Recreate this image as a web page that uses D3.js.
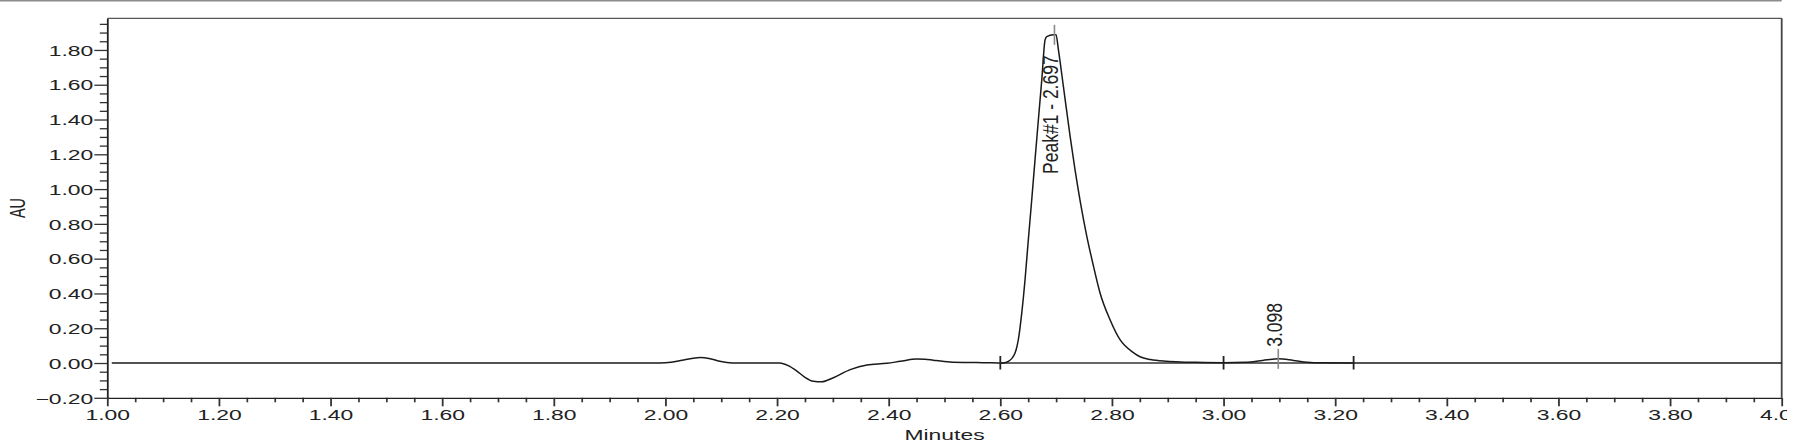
<!DOCTYPE html>
<html>
<head>
<meta charset="utf-8">
<script src="https://cdn.jsdelivr.net/npm/d3@7"></script>
<style>
body{margin:0;background:#fff}
svg{display:block}
text{font-family:"Liberation Sans",Arial,sans-serif;fill:#222}
</style>
</head>
<body>
<div id="chart"></div>
<script>
var times=[1.008,1.990,2.010,2.030,2.050,2.063,2.078,2.095,2.110,2.130,2.205,2.220,2.235,2.250,2.265,2.280,2.300,2.331,2.361,2.397,2.421,2.450,2.465,2.480,2.510,2.540,2.569,2.6055,
  2.6144,2.6264,2.6323,2.6384,2.6443,2.6502,2.6563,2.6622,2.6682,2.6743,2.6802,2.6832,2.6950,2.6999,2.7040,2.7130,2.7250,2.7339,2.7437,2.7549,2.7667,2.7787,2.7966,2.8145,2.8384,2.8504,2.869,2.898,2.922,2.950,3.000,
  3.040,3.070,3.098,3.125,3.150,3.170,3.233,4.000]
var values=[0,0,0.004,0.016,0.028,0.031,0.026,0.012,0.003,0,0,-0.015,-0.045,-0.082,-0.105,-0.108,-0.086,-0.038,-0.011,-0.002,0.010,0.023,0.022,0.016,0.006,0.003,0.002,0,
  0.009,0.058,0.134,0.287,0.479,0.709,0.939,1.169,1.399,1.629,1.858,1.877,1.887,1.887,1.803,1.591,1.304,1.111,0.920,0.730,0.560,0.403,0.249,0.134,0.060,0.036,0.020,0.010,0.006,0.004,0.002,
  0.004,0.015,0.024,0.015,0.005,0.001,0,0]

var peakTimes=[2.697,3.098]
var peakApex=[1.887,0.024]
var peakLabels=['Peak#1 - 2.697','3.098']
var delims=[2.600,3.000,3.233]

var xTicks=[1.00,1.20,1.40,1.60,1.80,2.00,2.20,2.40,2.60,2.80,3.00,3.20,3.40,3.60,3.80,4.00]
var yTicks=[-0.20,0.00,0.20,0.40,0.60,0.80,1.00,1.20,1.40,1.60,1.80]

var W=1801,H=443
var sx=1.58
var svg=d3.select('#chart').append('svg')
    .attr('width',W).attr('height',H)

svg.append('defs').append('clipPath').attr('id','pageclip')
    .append('rect').attr('x',0).attr('y',0).attr('width',1787).attr('height',H)

var g=svg.append('g').attr('clip-path','url(#pageclip)')

var x=d3.scaleLinear().domain([1,4]).range([107.3,1781.7])
var y=d3.scaleLinear().domain([-0.2,1.982]).range([397.8,18.3])
var plotTop=y.range()[1], plotBot=y.range()[0]

// thin grey rule at the very top
g.append('line')
    .attr('x1',0).attr('x2',x(4)).attr('y1',0.7).attr('y2',0.7)
    .attr('stroke','#8c8c8c').attr('stroke-width',1.4)

// frame top/right
g.append('line')
    .attr('x1',x(1)).attr('x2',x(4)).attr('y1',plotTop).attr('y2',plotTop)
    .attr('stroke','#555').attr('stroke-width',1.3)
g.append('line')
    .attr('x1',x(4)).attr('x2',x(4)).attr('y1',plotTop).attr('y2',plotBot)
    .attr('stroke','#444').attr('stroke-width',1.8)

var fmt=d3.format('.2f')

// x minor then major
var xMinor=d3.range(1,4.0001,0.05).filter(function(d){return Math.abs(d*5-Math.round(d*5))>1e-6})
g.append('g').attr('transform','translate(0,'+plotBot+')')
    .call(d3.axisBottom(x).tickValues(xMinor).tickSize(4.5).tickSizeOuter(0).tickFormat(''))
    .call(function(a){a.select('.domain').remove()
	a.selectAll('.tick line').attr('stroke','#333').attr('stroke-width',1.7)})
var xa=g.append('g').attr('transform','translate(0,'+plotBot+')')
    .call(d3.axisBottom(x).tickValues(xTicks).tickSize(8.5).tickSizeOuter(0).tickFormat(fmt))
xa.select('.domain').attr('stroke','#222').attr('stroke-width',1.3)
xa.selectAll('.tick line').attr('stroke','#333').attr('stroke-width',1.8)
xa.selectAll('text')
    .attr('y',12.4).attr('dy','0.71em')
    .attr('font-size',14.5)
    .attr('transform','scale('+sx+',1)')

// y minor then major
var yMinor=d3.range(-0.2,1.98,0.05).filter(function(d){return Math.abs(d*5-Math.round(d*5))>1e-6})
g.append('g').attr('transform','translate('+x(1)+',0)')
    .call(d3.axisLeft(y).tickValues(yMinor).tickSize(7.5).tickSizeOuter(0).tickFormat(''))
    .call(function(a){a.select('.domain').remove()
	a.selectAll('.tick line').attr('stroke','#333').attr('stroke-width',1.3)})
var ya=g.append('g').attr('transform','translate('+x(1)+',0)')
    .call(d3.axisLeft(y).tickValues(yTicks).tickSize(13).tickSizeOuter(0).tickFormat(fmt))
ya.select('.domain').attr('stroke','#222').attr('stroke-width',1.8)
ya.selectAll('.tick line').attr('stroke','#333').attr('stroke-width',1.3)
ya.selectAll('text')
    .attr('x',-14/sx).attr('dy','0.36em')
    .attr('font-size',14.5)
    .attr('transform','scale('+sx+',1)')

g.append('text')
    .attr('transform','translate('+((x(1)+x(4))/2)+',440.3) scale('+sx+',1)')
    .attr('text-anchor','middle').attr('font-size',14.5)
    .text('Minutes')
g.append('text')
    .attr('transform','translate(25,'+((plotBot+plotTop)/2)+') scale('+sx+',1) rotate(-90)')
    .attr('text-anchor','middle').attr('font-size',14.5)
    .text('AU')

// integration baselines between delimiters
var segs=d3.pairs(delims)
var segline=d3.line().x(function(d){return x(d)}).y(function(){return y(0)})
g.selectAll('.seg').data(segs).enter().append('path')
    .attr('class','seg')
    .attr('d',function(d){return segline(d)})
    .attr('fill','none').attr('stroke','#333').attr('stroke-width',1.4)

// trace
var pts=times.map(function(t,i){return [t,values[i]]})
var trace=d3.line()
    .x(function(d){return x(d[0])})
    .y(function(d){return y(d[1])})
    .curve(d3.curveMonotoneX)
g.append('path')
    .datum(pts)
    .attr('d',trace)
    .attr('fill','none').attr('stroke','#1a1a1a').attr('stroke-width',1.5)

// delimiter ticks
g.selectAll('.delim').data(delims).enter().append('line')
    .attr('class','delim')
    .attr('x1',function(d){return x(d)}).attr('x2',function(d){return x(d)})
    .attr('y1',y(0)-7).attr('y2',y(0)+6.5)
    .attr('stroke','#222').attr('stroke-width',1.8)

// apex markers
g.selectAll('.apex').data(peakTimes).enter().append('line')
    .attr('class','apex')
    .attr('x1',function(d){return x(d)}).attr('x2',function(d){return x(d)})
    .attr('y1',function(d,i){return y(peakApex[i])-10})
    .attr('y2',function(d,i){return y(peakApex[i])+10})
    .attr('stroke','#8a8a8a').attr('stroke-width',1.6)

// peak labels
g.selectAll('.plab').data(peakLabels).enter().append('text')
    .attr('class','plab')
    .attr('font-size',17.5)
    .attr('text-anchor','start')
    .text(function(d){return d})
    .each(function(d,i){
	var len=this.getComputedTextLength()
	var ys=y(peakApex[i])-12
	if(ys-len<plotTop+37) ys=plotTop+37+len
	d3.select(this).attr('transform','translate('+(x(peakTimes[i])+3.5)+','+ys+') scale(1.22,1) rotate(-90)')
    })
</script>
</body>
</html>
